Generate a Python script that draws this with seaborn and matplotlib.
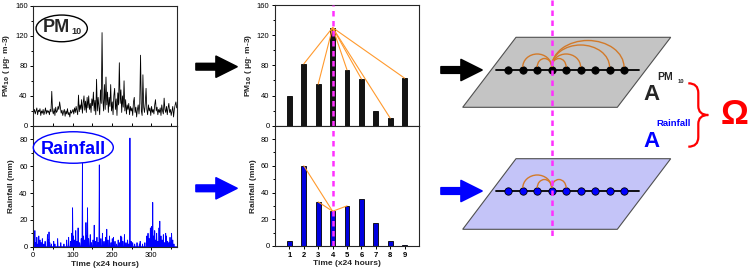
import numpy as np
import pandas as pd
import matplotlib
matplotlib.use("Agg")
import matplotlib.pyplot as plt
import seaborn as sns
from matplotlib.patches import Ellipse, Polygon, FancyArrow, Arc, PathPatch
from matplotlib.path import Path
from matplotlib.ticker import MultipleLocator

# ---------------- data ----------------
# daily PM10 (read every 2nd day)
pm10_series = [
    18, 22, 16, 20, 24, 15, 21, 19, 23, 14,
    20, 17, 22, 15, 19, 24, 16, 21, 18, 20,
    15, 22, 19, 46, 20, 16, 23, 14, 25, 18,
    20, 26, 22, 32, 24, 17, 21, 14, 19, 22,
    13, 20, 16, 23, 15, 18, 12, 21, 17, 19,
    22, 16, 24, 18, 26, 20, 15, 41, 19, 28,
    22, 35, 17, 30, 40, 21, 33, 18, 38, 24,
    40, 22, 30, 18, 36, 27, 45, 20, 34, 15,
    62, 20, 38, 25, 15, 48, 30, 124, 35, 20,
    55, 22, 65, 28, 45, 18, 38, 26, 55, 20,
    32, 15, 40, 50, 22, 36, 14, 44, 28, 84,
    30, 48, 18, 40, 25, 60, 20, 35, 16, 28,
    22, 30, 15, 26, 20, 24, 14, 32, 38, 18,
    25, 12, 22, 28, 16, 30, 94, 20, 14, 68,
    25, 18, 30, 50, 22, 15, 28, 20, 24, 14,
    26, 18, 22, 16, 28, 35, 20, 25, 15, 22,
    18, 24, 14, 28, 20, 16, 37, 22, 18, 26,
    15, 24, 30, 18, 22, 14, 20, 26, 12, 22,
    28, 32, 24,
]
pm10_days = list(range(1, 366, 2))

# rainfall events (day, mm); all other days are zero
rain_event_days = [1, 4, 6, 9, 12, 14, 17, 20, 23, 27, 30, 36, 38, 40, 42, 46, 52, 55, 62, 70,
                   78, 85, 90, 95, 98, 100, 102, 105, 108, 111, 114, 118, 122, 125, 128, 131,
                   134, 136, 138, 141, 145, 148, 152, 155, 158, 162, 165, 168, 172, 176, 180,
                   184, 187, 190, 194, 198, 201, 204, 208, 212, 216, 220, 223, 225, 228, 232,
                   236, 240, 243, 246, 249, 253, 258, 264, 270, 272, 278, 284, 289, 292, 295,
                   298, 301, 304, 306, 309, 312, 314, 317, 320, 322, 325, 328, 331, 334, 337,
                   339, 342, 345, 348, 352, 355, 358]
rain_event_mm = [4, 12, 3, 7, 2, 8, 5, 3, 6, 2, 4, 9, 5, 11, 3, 2, 4, 2, 6, 3,
                 2, 5, 7, 4, 10, 29, 8, 5, 12, 4, 14, 3, 6, 62, 8, 5,
                 18, 8, 29, 6, 9, 3, 5, 16, 4, 7, 3, 61, 6, 10, 4,
                 7, 13, 5, 8, 3, 6, 7, 4, 2, 5, 3, 8, 7, 4, 9,
                 3, 5, 2, 81, 4, 3, 2, 3, 2, 4, 2, 3, 8, 10, 6,
                 14, 15, 33, 8, 12, 5, 10, 4, 14, 19, 8, 5, 9, 3, 10,
                 8, 4, 3, 7, 10, 5, 2]

# 9-day window
win_days = [1, 2, 3, 4, 5, 6, 7, 8, 9]
pm10_win = [40, 82, 55, 130, 74, 62, 20, 10, 63]
rain_win = [4, 60, 33, 26, 30, 35, 17, 4, 1]
focus_day = 4
pm10_links = [2, 3, 5, 6, 8, 9]
rain_links = [2, 3, 5]

# ---------------- style ----------------
sns.set_style("ticks")
plt.rcParams["font.family"] = ["Liberation Sans", "DejaVu Sans"]
plt.rcParams["axes.linewidth"] = 0.8

W, H = 750, 271
fig = plt.figure(figsize=(W / 100, H / 100), dpi=100)


def rect(x0, y0, x1, y1):
    return [x0 / W, 1 - y1 / H, (x1 - x0) / W, (y1 - y0) / H]


TL = dict(labelsize=5.5, width=0.7, length=2.5, pad=1.5, colors="black")
LBL = dict(fontsize=6, fontweight="bold")
ORANGE = "#ff9a2e"
MAGENTA = "#ff30ff"

# ---------------- left: time series ----------------
ax1 = fig.add_axes(rect(33.3, 5.5, 176.7, 126))
sns.lineplot(x=pm10_days, y=pm10_series, ax=ax1, color="black", lw=0.6)
ax1.set_xlim(0, 365)
ax1.set_ylim(0, 160)
ax1.yaxis.set_major_locator(MultipleLocator(40))
ax1.yaxis.set_minor_locator(MultipleLocator(20))
ax1.xaxis.set_major_locator(MultipleLocator(50))
ax1.tick_params(axis="x", direction="in", labelbottom=False, **TL)
ax1.tick_params(axis="y", which="both", direction="out", **TL)
ax1.tick_params(axis="y", which="minor", length=1.5)
ax1.set_ylabel("PM$_{\\mathbf{10}}$ ( μg· m-3)", labelpad=2, **LBL)
for s in ax1.spines.values():
    s.set_visible(True)

rain_daily = np.zeros(365)
for d, v in zip(rain_event_days, rain_event_mm):
    rain_daily[d - 1] = v
ax2 = fig.add_axes(rect(33.3, 126, 176.7, 246.7))
sns.lineplot(x=np.arange(1, 366), y=rain_daily, ax=ax2, color="#0000ff", lw=0.6)
ax2.set_xlim(0, 365)
ax2.set_ylim(0, 90)
ax2.yaxis.set_major_locator(MultipleLocator(20))
ax2.yaxis.set_minor_locator(MultipleLocator(10))
ax2.xaxis.set_major_locator(MultipleLocator(100))
ax2.xaxis.set_minor_locator(MultipleLocator(50))
ax2.tick_params(axis="both", which="both", direction="out", **TL)
ax2.tick_params(which="minor", length=1.5)
ax2.set_ylabel("Rainfall (mm)", labelpad=3, **LBL)
ax2.set_xlabel("Time (x24 hours)", labelpad=1, **LBL)
for s in ax2.spines.values():
    s.set_visible(True)

# ---------------- middle: 9-day bars ----------------
ax3 = fig.add_axes(rect(275, 5, 419, 125.7))
sns.barplot(x=win_days, y=pm10_win, ax=ax3, native_scale=True, color="#141414",
            edgecolor="black", linewidth=0.6, width=0.32, saturation=1, errorbar=None)
fi = win_days.index(focus_day)
for k in pm10_links:
    j = win_days.index(k)
    ax3.plot([focus_day, win_days[j]], [pm10_win[fi], pm10_win[j]], color=ORANGE, lw=0.8, zorder=3)
ax3.axvline(focus_day, color=MAGENTA, lw=1.8, dashes=(2.2, 1.8), zorder=4)
ax3.set_xlim(0, 10)
ax3.set_ylim(0, 160)
ax3.set_xticks(win_days)
ax3.set_xlabel("")
ax3.yaxis.set_major_locator(MultipleLocator(40))
ax3.yaxis.set_minor_locator(MultipleLocator(20))
ax3.tick_params(axis="x", direction="out", labelbottom=False, **TL)
ax3.tick_params(axis="y", which="both", direction="out", **TL)
ax3.tick_params(axis="y", which="minor", length=1.5)
ax3.set_ylabel("PM$_{\\mathbf{10}}$ ( μg· m-3)", labelpad=2, **LBL)
for s in ax3.spines.values():
    s.set_visible(True)

ax4 = fig.add_axes(rect(275, 125.7, 419, 246))
sns.barplot(x=win_days, y=rain_win, ax=ax4, native_scale=True, color="#0000e0",
            edgecolor="black", linewidth=0.6, width=0.32, saturation=1, errorbar=None)
for k in rain_links:
    j = win_days.index(k)
    ax4.plot([focus_day, win_days[j]], [rain_win[fi], rain_win[j]], color=ORANGE, lw=0.8, zorder=3)
ax4.axvline(focus_day, color=MAGENTA, lw=1.8, dashes=(2.2, 1.8), zorder=4)
ax4.set_xlim(0, 10)
ax4.set_ylim(0, 90)
ax4.set_xticks(win_days)
ax4.set_xticklabels([str(d) for d in win_days], fontweight="bold")
ax4.yaxis.set_major_locator(MultipleLocator(20))
ax4.yaxis.set_minor_locator(MultipleLocator(10))
ax4.tick_params(axis="both", which="both", direction="out", **TL)
ax4.tick_params(which="minor", length=1.5)
ax4.set_ylabel("Rainfall (mm)", labelpad=3, **LBL)
ax4.set_xlabel("Time (x24 hours)", labelpad=1, **LBL)
for s in ax4.spines.values():
    s.set_visible(True)

# ---------------- overlay: schematic ----------------
ov = fig.add_axes([0, 0, 1, 1], zorder=10)
ov.set_xlim(0, W)
ov.set_ylim(H, 0)
ov.axis("off")
ov.patch.set_alpha(0)

# labels in ellipses
ov.add_patch(Ellipse((61.7, 28.4), 51.3, 26.7, fill=False, ec="black", lw=1.0))
ov.text(56.5, 27.5, "PM", fontsize=13, fontweight="bold", ha="center", va="center")
ov.text(76.5, 31, "10", fontsize=6.5, fontweight="bold", ha="center", va="center")
ov.add_patch(Ellipse((73.3, 147.5), 80, 31.5, fill=False, ec="#0000ff", lw=1.0))
ov.text(73.3, 149, "Rainfall", fontsize=13, fontweight="bold", ha="center", va="center",
        color="#0000ff")

# arrows
for (x0, y0, c) in [(196, 66.7, "black"), (196, 188.3, "#0000ff"),
                    (441, 70, "black"), (441, 191, "#0000ff")]:
    ov.add_patch(FancyArrow(x0, y0, 41, 0, width=6.5, head_width=21, head_length=21,
                            length_includes_head=True, color=c, lw=1.2, ec=c,
                            joinstyle="round", capstyle="round"))

# planes
planes = [(37.3, 107.3, "#c4c4c4", "black", 70, pm10_links),
          (158.7, 229.3, "#c4c4f8", "#0000ff", 191, rain_links)]
x_first, x_last = 508.3, 624.0
step = (x_last - x_first) / (len(win_days) - 1)
node_x = [x_first + (d - win_days[0]) * step for d in win_days]
for (ytop, ybot, fc, nc, yl, links) in planes:
    ov.add_patch(Polygon([(462.7, ybot), (516, ytop), (670.7, ytop), (617.3, ybot)],
                         closed=True, fc=fc, ec="#505050", lw=0.8, zorder=1))
    ov.plot([496, 639.3], [yl, yl], color="black", lw=1.3, zorder=2)
    ov.plot(node_x, [yl] * len(node_x), "o", ms=5.3, mfc=nc, mec="black", mew=0.6, zorder=3)
    xf = node_x[win_days.index(focus_day)]
    for k in links:
        xk = node_x[win_days.index(k)]
        d = abs(k - focus_day)
        h = 4 + 4.5 * d
        ov.add_patch(Arc(((xf + xk) / 2, yl - 3), abs(xk - xf), 2 * h,
                         theta1=180, theta2=360, color="#d27a2a", lw=1.0, zorder=3))

xf = node_x[win_days.index(focus_day)]
ov.plot([xf, xf], [0, 238], color=MAGENTA, lw=1.8, dashes=(2.2, 1.8), zorder=5)

# A labels
ov.text(651, 100, "A", fontsize=16, fontweight="bold", ha="center", va="baseline")
ov.text(657, 77.5, "PM", fontsize=7.5, fontweight="bold", ha="left", va="center")
ov.text(677.5, 81.5, "10", fontsize=4.2, fontweight="bold", ha="left", va="center")
ov.text(651, 146.7, "A", fontsize=16, fontweight="bold", ha="center", va="baseline",
        color="#0000ff")
ov.text(656, 124, "Rainfall", fontsize=6.8, fontweight="bold", ha="left", va="center",
        color="#0000ff")

# brace
verts = [(688.3, 83.3), (698.3, 83.3), (698.3, 93),
         (698.3, 106),
         (698.3, 115), (708.3, 115),
         (698.3, 115), (698.3, 124),
         (698.3, 137),
         (698.3, 146.7), (688.3, 146.7)]
codes = [Path.MOVETO, Path.CURVE3, Path.CURVE3,
         Path.LINETO,
         Path.CURVE3, Path.CURVE3,
         Path.CURVE3, Path.CURVE3,
         Path.LINETO,
         Path.CURVE3, Path.CURVE3]
ov.add_patch(PathPatch(Path(verts, codes), fill=False, ec="#ff0000", lw=1.6))
ov.text(734, 114, "Ω", fontsize=25, fontweight="bold", ha="center", va="center", color="#ff0000")

fig.savefig("out.png", dpi=100)
